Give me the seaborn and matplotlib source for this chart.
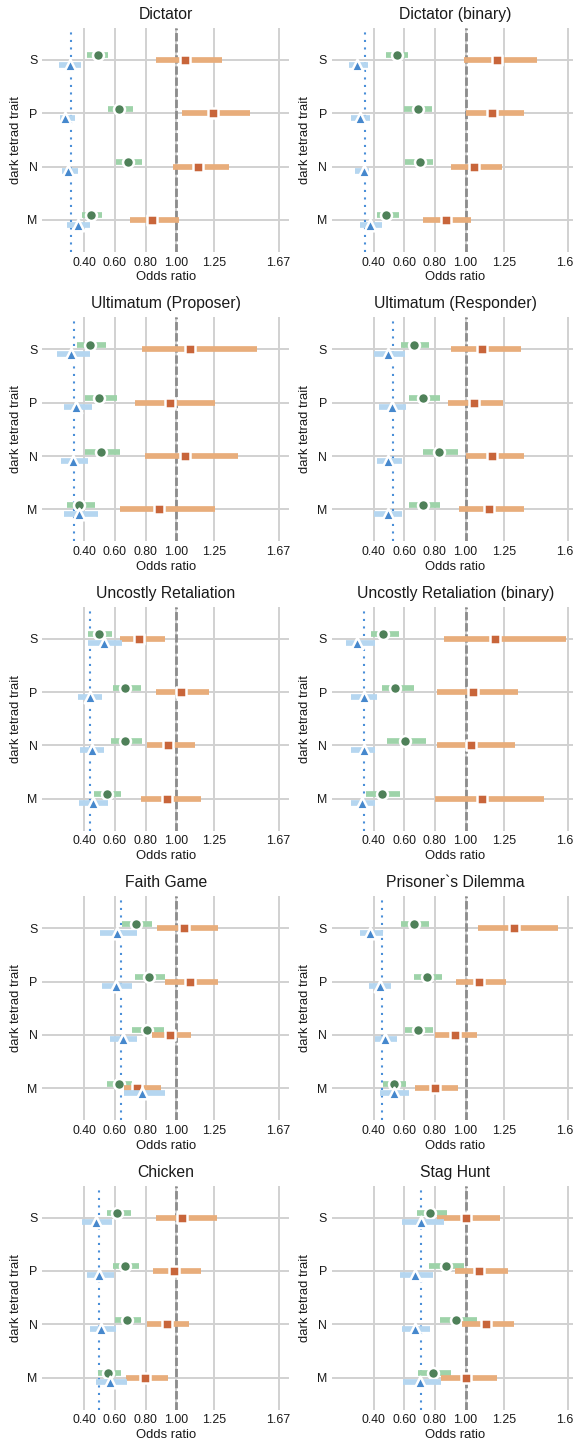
import pandas as pd
import matplotlib
matplotlib.use("Agg")
import matplotlib.pyplot as plt
import seaborn as sns

games = ["Dictator", "Dictator (binary)",
         "Ultimatum (Proposer)", "Ultimatum (Responder)",
         "Uncostly Retaliation", "Uncostly Retaliation (binary)",
         "Faith Game", "Prisoner`s Dilemma",
         "Chicken", "Stag Hunt"]
traits = ["S", "P", "N", "M"]
odds_ticks = [0.40, 0.60, 0.80, 1.00, 1.25, 1.67]

# orange squares (one row per game, columns S, P, N, M)
orange_est = [[1.059, 1.242, 1.143, 0.840], [1.206, 1.175, 1.058, 0.870],
              [1.092, 0.960, 1.059, 0.890], [1.108, 1.058, 1.175, 1.156],
              [0.760, 1.029, 0.949, 0.938], [1.195, 1.048, 1.037, 1.108],
              [1.051, 1.092, 0.960, 0.747], [1.314, 1.087, 0.929, 0.799],
              [1.037, 0.989, 0.938, 0.798], [1.004, 1.087, 1.136, 1.004]]
orange_lo = [[0.870, 1.040, 0.980, 0.699], [0.989, 1.006, 0.907, 0.719],
             [0.780, 0.730, 0.798, 0.631], [0.907, 0.887, 1.000, 0.957],
             [0.631, 0.868, 0.809, 0.769], [0.859, 0.812, 0.812, 0.801],
             [0.873, 0.930, 0.842, 0.659], [1.080, 0.939, 0.799, 0.671],
             [0.870, 0.851, 0.809, 0.670], [0.816, 0.929, 0.978, 0.842]]
orange_hi = [[1.301, 1.484, 1.343, 1.022], [1.465, 1.385, 1.238, 1.039],
             [1.527, 1.253, 1.402, 1.253], [1.364, 1.245, 1.385, 1.385],
             [0.930, 1.213, 1.121, 1.160], [1.660, 1.342, 1.325, 1.513],
             [1.275, 1.275, 1.099, 0.901], [1.602, 1.264, 1.076, 0.950],
             [1.264, 1.160, 1.081, 0.949], [1.227, 1.277, 1.314, 1.206]]

# green circles
green_est = [[0.488, 0.626, 0.688, 0.444], [0.554, 0.690, 0.701, 0.481],
             [0.435, 0.497, 0.508, 0.367], [0.660, 0.719, 0.829, 0.719],
             [0.497, 0.666, 0.666, 0.545], [0.463, 0.541, 0.602, 0.452],
             [0.736, 0.820, 0.807, 0.626], [0.660, 0.751, 0.690, 0.530],
             [0.615, 0.666, 0.677, 0.554], [0.768, 0.870, 0.937, 0.790]]
green_lo = [[0.418, 0.556, 0.609, 0.387], [0.481, 0.600, 0.606, 0.422],
            [0.352, 0.402, 0.407, 0.286], [0.578, 0.632, 0.719, 0.632],
            [0.424, 0.589, 0.576, 0.466], [0.383, 0.455, 0.485, 0.351],
            [0.648, 0.730, 0.710, 0.545], [0.578, 0.665, 0.606, 0.459],
            [0.545, 0.589, 0.600, 0.488], [0.680, 0.758, 0.831, 0.690]]
green_hi = [[0.556, 0.721, 0.780, 0.516], [0.621, 0.784, 0.790, 0.567],
            [0.541, 0.611, 0.631, 0.468], [0.762, 0.831, 0.950, 0.831],
            [0.578, 0.769, 0.780, 0.642], [0.563, 0.660, 0.740, 0.574],
            [0.842, 0.930, 0.921, 0.714], [0.762, 0.848, 0.790, 0.610],
            [0.708, 0.758, 0.769, 0.642], [0.881, 0.989, 1.076, 0.907]]

# blue triangles
blue_est = [[0.308, 0.275, 0.292, 0.356], [0.292, 0.312, 0.333, 0.377],
            [0.312, 0.347, 0.325, 0.367], [0.496, 0.519, 0.494, 0.494],
            [0.527, 0.435, 0.451, 0.457], [0.292, 0.333, 0.333, 0.325],
            [0.615, 0.609, 0.653, 0.780], [0.377, 0.444, 0.474, 0.530],
            [0.477, 0.495, 0.510, 0.567], [0.708, 0.671, 0.671, 0.701]]
blue_lo = [[0.237, 0.242, 0.253, 0.286], [0.236, 0.253, 0.275, 0.307],
           [0.224, 0.264, 0.248, 0.264], [0.400, 0.433, 0.420, 0.400],
           [0.424, 0.356, 0.374, 0.365], [0.216, 0.253, 0.249, 0.249],
           [0.505, 0.516, 0.567, 0.659], [0.307, 0.372, 0.405, 0.442],
           [0.385, 0.418, 0.440, 0.479], [0.582, 0.571, 0.582, 0.589]]
blue_hi = [[0.378, 0.336, 0.358, 0.435], [0.364, 0.377, 0.366, 0.455],
           [0.440, 0.451, 0.422, 0.490], [0.604, 0.610, 0.582, 0.582],
           [0.648, 0.516, 0.527, 0.556], [0.405, 0.422, 0.411, 0.411],
           [0.747, 0.714, 0.747, 0.930], [0.463, 0.513, 0.550, 0.632],
           [0.578, 0.593, 0.604, 0.677], [0.859, 0.790, 0.768, 0.842]]

# dotted blue reference line per game
baseline = [0.312, 0.342, 0.334, 0.528, 0.435, 0.335, 0.637, 0.455, 0.497, 0.708]

# long table
rows = []
for series, est, lo, hi in [("green", green_est, green_lo, green_hi),
                            ("orange", orange_est, orange_lo, orange_hi),
                            ("blue", blue_est, blue_lo, blue_hi)]:
    for g, game in enumerate(games):
        for t, trait in enumerate(traits):
            rows.append(dict(game=game, trait=trait, t=t, series=series,
                             est=est[g][t], lo=lo[g][t], hi=hi[g][t]))
df = pd.DataFrame(rows)

# series styling: bar colour, marker colour, marker, size, offset
style = {
    "green": ("#9ed3a9", "#4f8159", "o", 62, -0.085),
    "orange": ("#e8ad7b", "#c8653a", "s", 42, 0.0),
    "blue": ("#b5d6f0", "#4688cd", "^", 70, 0.085),
}

sns.set_theme(style="whitegrid", rc={"grid.color": ".82", "grid.linewidth": 1.4,
                                     "text.color": ".1", "axes.labelcolor": ".1",
                                     "xtick.color": ".1", "ytick.color": ".1"})
plt.rcParams["font.family"] = ["Liberation Sans", "DejaVu Sans"]

W, H = 573, 1441
fig = plt.figure(figsize=(W / 100, H / 100), dpi=100)

for i, game in enumerate(games):
    r, c = divmod(i, 2)
    left = [42.3, 331.7][c]
    top = 28 + 289.4 * r
    ax = fig.add_axes([left / W, 1 - (top + 224) / H, 247 / W, 224 / H])

    ax.axvline(1.0, color="#8c8c8c", lw=2.0, dashes=(3, 1), zorder=2)
    ax.axvline(baseline[i], color="#4a8fd8", lw=1.5, dashes=(1, 2.6), zorder=2)

    sub = df[df.game == game]
    for k, (name, (bar_c, mk_c, mk, size, off)) in enumerate(style.items()):
        s = sub[sub.series == name]
        y = s.t + off
        ax.hlines(y, s.lo, s.hi, color=bar_c, lw=4.1, capstyle="butt", zorder=3 + 2 * k)
        sns.scatterplot(x=s.est.values, y=y.values, marker=mk, s=size, color=mk_c,
                        edgecolor="white", linewidth=1.8, zorder=4 + 2 * k,
                        legend=False, ax=ax)

    ax.set_xlim(0.125, 1.74)
    ax.set_ylim(3.6, -0.6)
    ax.set_xticks(odds_ticks)
    ax.set_xticklabels([f"{v:.2f}" for v in odds_ticks], fontsize=8.9)
    ax.set_yticks(range(len(traits)))
    ax.set_yticklabels(traits, fontsize=8.9)
    ax.tick_params(axis="both", length=0, pad=3.3)
    ax.set_title(game, fontsize=11.3, pad=6.5)
    ax.set_xlabel("Odds ratio", fontsize=9.4, labelpad=2)
    ax.set_ylabel("dark tetrad trait", fontsize=9.4, labelpad=4)
    sns.despine(ax=ax, left=True, bottom=True)

fig.savefig("out.png", dpi=100)
